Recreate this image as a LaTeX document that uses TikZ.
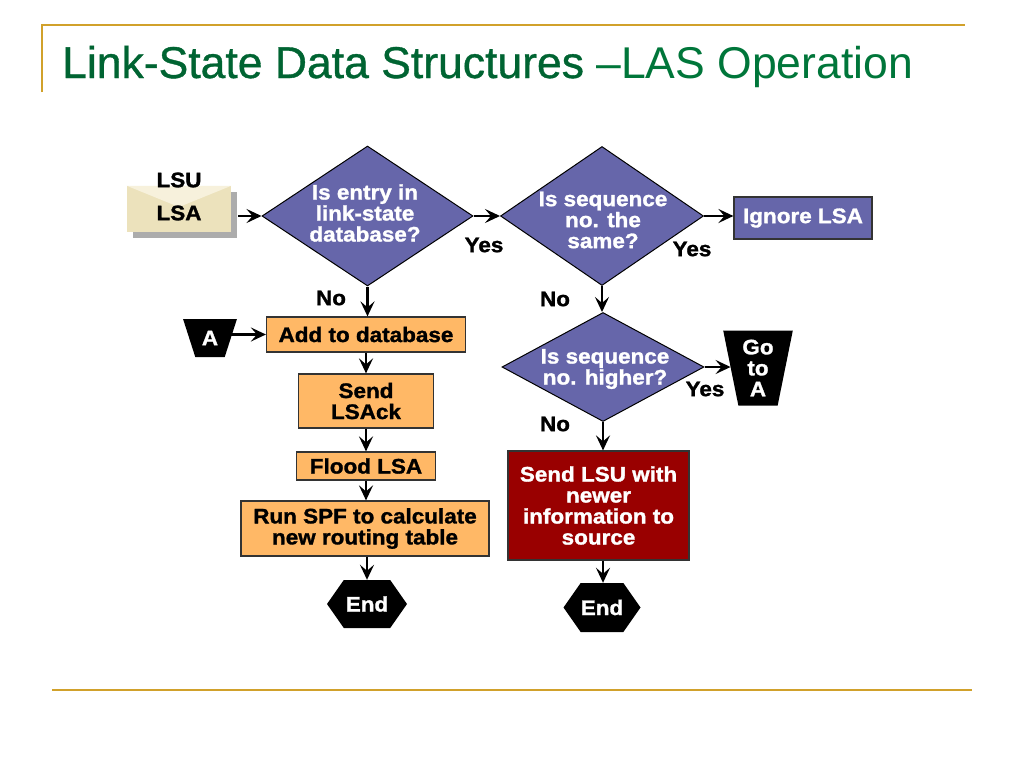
\documentclass[tikz,border=0pt]{standalone}
\usepackage{fontspec}
\setmainfont{Liberation Sans}
\newfontfamily\bx[FakeStretch=1.07,FakeBold=1.4]{Liberation Sans}
\newfontfamily\tA[FakeBold=0.8]{Liberation Sans}
\newfontfamily\tB{Liberation Sans}
\usetikzlibrary{shapes.geometric,shapes.symbols,arrows.meta,shadows}
\definecolor{cGold}{RGB}{209,161,43}
\definecolor{cDia}{RGB}{102,102,170}
\definecolor{cOrange}{RGB}{255,184,102}
\definecolor{cRed}{RGB}{153,0,0}
\definecolor{cTitleA}{RGB}{0,100,50}
\definecolor{cTitleB}{RGB}{0,118,58}
\definecolor{cEnv}{RGB}{236,226,188}
\definecolor{cEnvLt}{RGB}{247,241,220}
\definecolor{cShadow}{RGB}{172,172,172}
\begin{document}
\begin{tikzpicture}[x=1pt,y=-1pt,
  txt/.style={font=\bx\bfseries\fontsize{21}{21}\selectfont, align=center, inner sep=0pt},
  decision/.style={diamond, draw=black, line width=1pt, fill=cDia, inner sep=0pt},
  dtext/.style={txt, text=white},
  obox/.style={rectangle, draw=black!80, line width=1.2pt, fill=cOrange, txt},
  pbox/.style={rectangle, draw=black!80, line width=1.2pt, fill=cDia, txt, text=white},
  rbox/.style={rectangle, draw=black!80, line width=1.2pt, fill=cRed, txt, text=white},
  endnode/.style={signal, signal to=east and west, signal pointer angle=110, fill=black, txt, text=white},
  connector/.style={trapezium, trapezium stretches=true, shape border rotate=180, fill=black, txt, text=white},
  lbl/.style={txt, text=black},
  conn/.style={draw=black, line width=2.2pt, -{Stealth[length=15pt,width=14pt,inset=6pt]}},
  goldline/.style={draw=cGold, line width=2.6pt}
]
\useasboundingbox[fill=white] (0,0) rectangle (1024,768);

% frame lines
\coordinate (tl) at (42,25);
\coordinate (tr) at (965,25);
\coordinate (vl) at (42,92);
\coordinate (bl) at (52,690);
\coordinate (br) at (972,690);
\draw[goldline] (vl) -- (tl) -- (tr);
\draw[goldline] (bl) -- (br);

% title
\node[anchor=base west, inner sep=0pt, font=\fontsize{44.5}{50}\selectfont] (title) at (62,78)
  {\textcolor{cTitleA}{\tA Link-State Data Structures} \textcolor{cTitleB}{\tB –LAS Operation}};

% envelope
\node[rectangle, fill=cEnv, minimum width=104, minimum height=46, inner sep=0pt,
      drop shadow={shadow xshift=6pt, shadow yshift=-6pt, fill=cShadow, opacity=1}] (env) at (179,209) {};
\fill[cEnvLt] (env.north west) -- ([yshift=2pt]env.center) -- (env.north east) -- cycle;
\node[lbl] (envlsa) at (179,213) {LSA};
\node[lbl] (envlsu) at (179,180) {LSU};

% decisions
\node[decision, minimum width=211, minimum height=140] (d1) at (367.5,216) {};
\node[dtext] (d1t) at (365,213) {Is entry in\\link-state\\database?};
\node[decision, minimum width=203, minimum height=139] (d2) at (602,216) {};
\node[dtext] (d2t) at (603,220) {Is sequence\\no. the\\same?};
\node[decision, minimum width=202, minimum height=109] (d3) at (603,367) {};
\node[dtext] (d3t) at (605,369) {Is sequence\\no. higher?};

\node[pbox, minimum width=138, minimum height=42] (ignore) at (803,218) {Ignore LSA};

% left column
\node[obox, minimum width=199, minimum height=35] (add) at (366,334.5) {Add to database};
\node[obox, minimum width=135, minimum height=54] (lsack) at (366,401) {Send\\LSAck};
\node[obox, minimum width=139, minimum height=28] (flood) at (366,466) {Flood LSA};
\node[obox, minimum width=248, minimum height=55] (spf) at (365,528.5) {Run SPF to calculate\\new routing table};
\node[endnode, minimum width=80, minimum height=48] (end1) at (367,604) {End};

\node[connector, trapezium left angle=65, trapezium right angle=65, minimum width=54, minimum height=38] (A) at (210,338) {A};

% right column
\node[connector, trapezium left angle=78, trapezium right angle=78, minimum width=70, minimum height=75] (goA) at (758,368) {Go\\to\\A};
\node[rbox, minimum width=181, minimum height=109] (red) at (598.5,505.5) {Send LSU with\\newer\\information to\\source};
\node[endnode, minimum width=77, minimum height=49] (end2) at (602,607.5) {End};

% labels
\node[lbl] (yes1) at (484,245) {Yes};
\node[lbl] (yes2) at (692,249) {Yes};
\node[lbl] (yes3) at (705,389) {Yes};
\node[lbl] (no1) at (331,298) {No};
\node[lbl] (no2) at (555,299) {No};
\node[lbl] (no3) at (555,424) {No};

% connectors
\draw[conn, shorten <=7pt] (env.east |- d1.west) -- (d1.west);
\draw[conn] (d1.east) -- (d2.west);
\draw[conn] (d2.east) -- (d2.east -| ignore.west);
\draw[conn] (d1.south) -- (d1.south |- add.north);
\draw[conn] (A.north east |- add.west) -- (add.west);
\draw[conn] (add.south -| lsack.north) -- (lsack.north);
\draw[conn] (lsack.south) -- (flood.north);
\draw[conn] (flood.south) -- (flood.south |- spf.north);
\draw[conn] (spf.south -| end1.north) -- (end1.north);
\draw[conn] (d2.south) -- (d2.south |- d3.north);
\draw[conn] (d3.east) -- (d3.east -| goA.west);
\draw[conn] (d3.south) -- (d3.south |- red.north);
\draw[conn] (d3.south |- red.south) -- (d3.south |- end2.north);
\end{tikzpicture}
\end{document}
